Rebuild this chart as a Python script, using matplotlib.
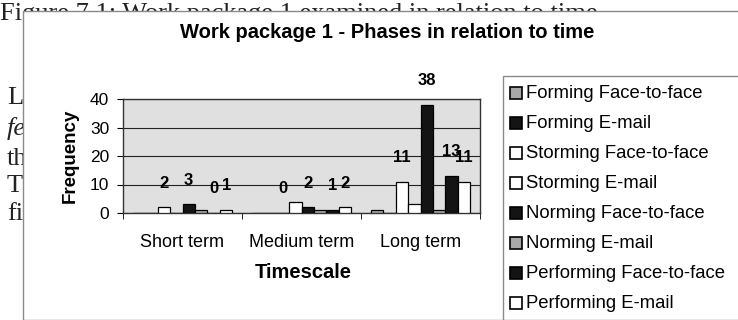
import matplotlib.pyplot as plt
import numpy as np
from matplotlib.patches import Rectangle

plt.rcParams['font.family'] = ['Liberation Sans', 'DejaVu Sans']

# frequency counts per timescale
timescales = ["Short term", "Medium term", "Long term"]
series = ["Forming Face-to-face", "Forming E-mail",
          "Storming Face-to-face", "Storming E-mail",
          "Norming Face-to-face", "Norming E-mail",
          "Performing Face-to-face", "Performing E-mail"]
forming_f2f = [0, 0, 1]
forming_email = [0, 0, 0]
storming_f2f = [2, 0, 11]
storming_email = [0, 4, 3]
norming_f2f = [3, 2, 38]
norming_email = [1, 1, 1]
performing_f2f = [0, 1, 13]
performing_email = [1, 2, 11]
values = [forming_f2f, forming_email, storming_f2f, storming_email,
          norming_f2f, norming_email, performing_f2f, performing_email]
# only these series carried value labels
labelled = [2, 4, 6, 7]

fills = ["#a8a8a8", "#141414", "white", "white",
         "#141414", "#a8a8a8", "#141414", "white"]

W, H = 738, 320
fig = plt.figure(figsize=(W / 100, H / 100), dpi=100)


def fx(x):
    return x / W


def fy(y):
    return 1 - y / H


# page text behind the chart object
serif = dict(family=['Liberation Serif', 'DejaVu Serif'], fontsize=19,
             color="#222222", zorder=-3)
fig.text(fx(0), fy(20), "Figure 7.1: Work package 1 examined in relation to time",
         va="baseline", ha="left", **serif)
body = ["L", "fe", "th", "T", "fi"]
body_y = [104, 135, 165, 192, 220]
for t, y in zip(body, body_y):
    style = "italic" if t == "fe" else "normal"
    fig.text(fx(7), fy(y), t, va="baseline", ha="left", style=style, **serif)

# chart frame
fig.add_artist(Rectangle((fx(23), 0), 1, fy(11), transform=fig.transFigure,
                         facecolor="white", edgecolor="#8a8a8a", lw=1.0,
                         zorder=-1))

fig.text(fx(387), fy(32), "Work package 1 - Phases in relation to time",
         ha="center", va="center", fontsize=14.5, fontweight="bold")

ax = fig.add_axes([fx(123), fy(213), fx(480 - 123), (213 - 99) / H])
ax.set_facecolor("#e0e0e0")

x = np.arange(len(timescales))
w = 0.105
for i, vals in enumerate(values):
    pos = x + (i - 3.5) * w
    ax.bar(pos, vals, width=w, color=fills[i], edgecolor="black",
           linewidth=0.9, zorder=3)
    if i in labelled:
        for p, v in zip(pos, vals):
            ax.annotate(str(v), (p, v), xytext=(0, 12), textcoords="offset points",
                        ha="center", va="bottom", fontsize=12,
                        fontweight="bold", annotation_clip=False)

ax.set_xlim(-0.5, 2.5)
ax.set_ylim(0, 40)
ax.set_yticks([0, 10, 20, 30, 40])
ax.yaxis.grid(True, color="#222222", lw=0.8, zorder=1)
ax.set_xticks(x)
ax.set_xticklabels(timescales, fontsize=13)
ax.set_xticks([-0.5, 0.5, 1.5, 2.5], minor=True)
ax.tick_params(axis="x", which="major", length=0, pad=15)
ax.tick_params(axis="x", which="minor", length=4, direction="out")
ax.tick_params(axis="y", labelsize=12.5, length=4, pad=6)
for s in ax.spines.values():
    s.set_color("#333333")
    s.set_linewidth(1.0)

ax.set_ylabel("Frequency", fontsize=13.5, fontweight="bold", labelpad=8)
fig.text(fx(303), fy(273), "Timescale", ha="center", va="center",
         fontsize=14.5, fontweight="bold")

# legend drawn by hand
fig.add_artist(Rectangle((fx(503), 0), 1, fy(76), transform=fig.transFigure,
                         facecolor="white", edgecolor="#8a8a8a", lw=1.0,
                         zorder=1))
for k, name in enumerate(series):
    yc = 93 + 30 * k
    fig.add_artist(Rectangle((fx(510), fy(yc + 6)), 12 / W, 12 / H,
                             transform=fig.transFigure, facecolor=fills[k],
                             edgecolor="black", lw=1.2, zorder=2))
    fig.text(fx(526), fy(yc), name, ha="left", va="center", fontsize=13.3,
             zorder=3)

fig.savefig("out.png", dpi=100)
